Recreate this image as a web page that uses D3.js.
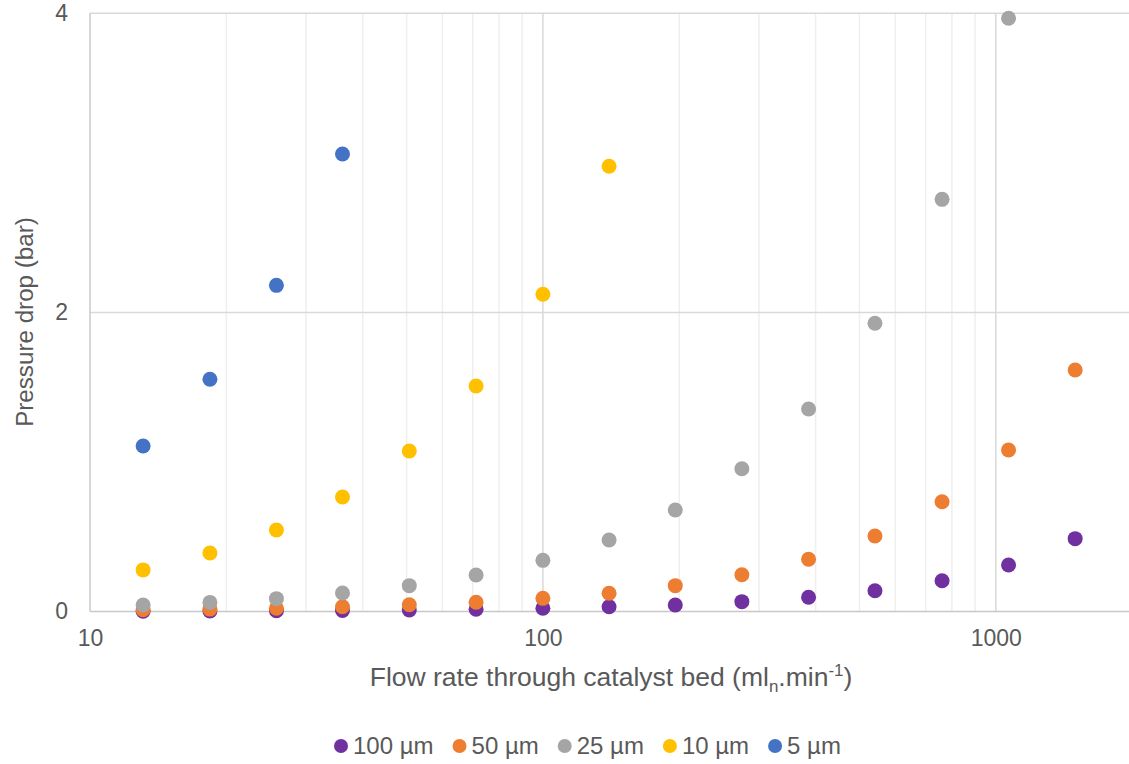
<!DOCTYPE html>
<html>
<head>
<meta charset="utf-8">
<script src="https://cdn.jsdelivr.net/npm/d3@7"></script>
<style>
  html, body { margin: 0; padding: 0; background: #fff; }
  svg { display: block; font-family: "Liberation Sans", Arial, sans-serif; }
</style>
</head>
<body>
<svg id="chart" width="1129" height="764"></svg>
<script>
// Flow rates (ml_n/min) at which pressure drop was measured
const flowRates = [13.1, 18.4, 25.8, 36.1, 50.7, 71.2, 100, 140, 196, 275, 386, 541, 761, 1067, 1497];

// Pressure drop (bar) per particle size
const drop100um = [0.0025, 0.0035, 0.005, 0.007, 0.010, 0.015, 0.022, 0.032, 0.043, 0.066, 0.095, 0.139, 0.206, 0.311, 0.487];
const drop50um  = [0.012, 0.016, 0.022, 0.032, 0.045, 0.062, 0.088, 0.122, 0.173, 0.246, 0.349, 0.505, 0.734, 1.080, 1.615];
const drop25um  = [0.043, 0.061, 0.086, 0.124, 0.173, 0.244, 0.342, 0.478, 0.679, 0.955, 1.354, 1.927, 2.756, 3.967];
const drop10um  = [0.278, 0.391, 0.545, 0.766, 1.073, 1.508, 2.121, 2.977];
const drop5um   = [1.107, 1.553, 2.181, 3.059];

const seriesNames  = ["100 µm", "50 µm", "25 µm", "10 µm", "5 µm"];
const seriesColors = ["#7030A0", "#ED7D31", "#A5A5A5", "#FFC000", "#4472C4"];
const seriesValues = [drop100um, drop50um, drop25um, drop10um, drop5um];

const xTickValues = [10, 100, 1000];
const yTickValues = [0, 2, 4];

const svg = d3.select("#chart");
const textColor = "#595959";

const plot = { left: 90, top: 13.3, bottom: 611.5 };
const x = d3.scaleLog().domain([10, 2000]).range([plot.left, plot.left + Math.log10(200) * 452.9]);
const y = d3.scaleLinear().domain([0, 4]).range([plot.bottom, plot.top]);

// Minor vertical gridlines (2..9 within each decade)
const minorTicks = [];
[10, 100, 1000].forEach(d => { for (let k = 2; k <= 9; k++) minorTicks.push(d * k); });
svg.append("g").selectAll("line").data(minorTicks.filter(v => v <= 2000)).join("line")
  .attr("x1", d => x(d)).attr("x2", d => x(d))
  .attr("y1", plot.top).attr("y2", plot.bottom)
  .attr("stroke", "#efefef").attr("stroke-width", 1.5);

// Major vertical gridlines
svg.append("g").selectAll("line").data(xTickValues.slice(1)).join("line")
  .attr("x1", d => x(d)).attr("x2", d => x(d))
  .attr("y1", plot.top).attr("y2", plot.bottom)
  .attr("stroke", "#d9d9d9").attr("stroke-width", 1.5);

// Horizontal gridlines
svg.append("g").selectAll("line").data(yTickValues.slice(1)).join("line")
  .attr("x1", plot.left).attr("x2", x(2000))
  .attr("y1", d => y(d)).attr("y2", d => y(d))
  .attr("stroke", "#d9d9d9").attr("stroke-width", 1.5);

// Axis lines
svg.append("line").attr("x1", plot.left).attr("x2", plot.left)
  .attr("y1", plot.top).attr("y2", plot.bottom)
  .attr("stroke", "#c8c8c8").attr("stroke-width", 1.5);
svg.append("line").attr("x1", plot.left).attr("x2", x(2000))
  .attr("y1", plot.bottom).attr("y2", plot.bottom)
  .attr("stroke", "#c8c8c8").attr("stroke-width", 1.5);

// Tick labels via d3 axes, with axis lines/ticks hidden
const xAxis = d3.axisBottom(x).tickValues(xTickValues).tickFormat(d3.format("d")).tickSize(0).tickPadding(18);
const gx = svg.append("g").attr("transform", `translate(0,${plot.bottom})`).call(xAxis);
gx.select(".domain").remove();
gx.selectAll("text").attr("fill", textColor).attr("font-size", 23).attr("font-family", "Liberation Sans, Arial, sans-serif");

const yAxis = d3.axisLeft(y).tickValues(yTickValues).tickFormat(d3.format("d")).tickSize(0).tickPadding(22);
const gy = svg.append("g").attr("transform", `translate(${plot.left},0)`).call(yAxis);
gy.select(".domain").remove();
gy.selectAll("text").attr("fill", textColor).attr("font-size", 23).attr("font-family", "Liberation Sans, Arial, sans-serif");

// Data points
seriesValues.forEach((vals, i) => {
  svg.append("g").selectAll("circle").data(vals).join("circle")
    .attr("cx", (d, j) => x(flowRates[j]))
    .attr("cy", d => y(d))
    .attr("r", 7.5)
    .attr("fill", seriesColors[i]);
});

// X axis title with subscript and superscript
const xt = svg.append("text")
  .attr("x", (plot.left + x(2000)) / 2).attr("y", 686)
  .attr("text-anchor", "middle").attr("fill", textColor).attr("font-size", 26.5);
xt.append("tspan").text("Flow rate through catalyst bed (ml");
xt.append("tspan").attr("font-size", 17).attr("dy", 6).text("n");
xt.append("tspan").attr("dy", -6).text(".min");
xt.append("tspan").attr("font-size", 17).attr("dy", -10).text("-1");
xt.append("tspan").attr("dy", 10).text(")");

// Y axis title
svg.append("text")
  .attr("transform", "translate(33,322) rotate(-90)")
  .attr("text-anchor", "middle").attr("fill", textColor).attr("font-size", 24.2)
  .text("Pressure drop (bar)");

// Legend
const legend = svg.append("g").attr("transform", "translate(0,746)");
let lx = 341;
seriesNames.forEach((name, i) => {
  legend.append("circle").attr("cx", lx).attr("cy", 0).attr("r", 7).attr("fill", seriesColors[i]);
  const t = legend.append("text").attr("x", lx + 12).attr("y", 0).attr("dy", "0.35em")
    .attr("fill", textColor).attr("font-size", 24).text(name);
  lx += 12 + t.node().getComputedTextLength() + 26;
});
</script>
</body>
</html>
